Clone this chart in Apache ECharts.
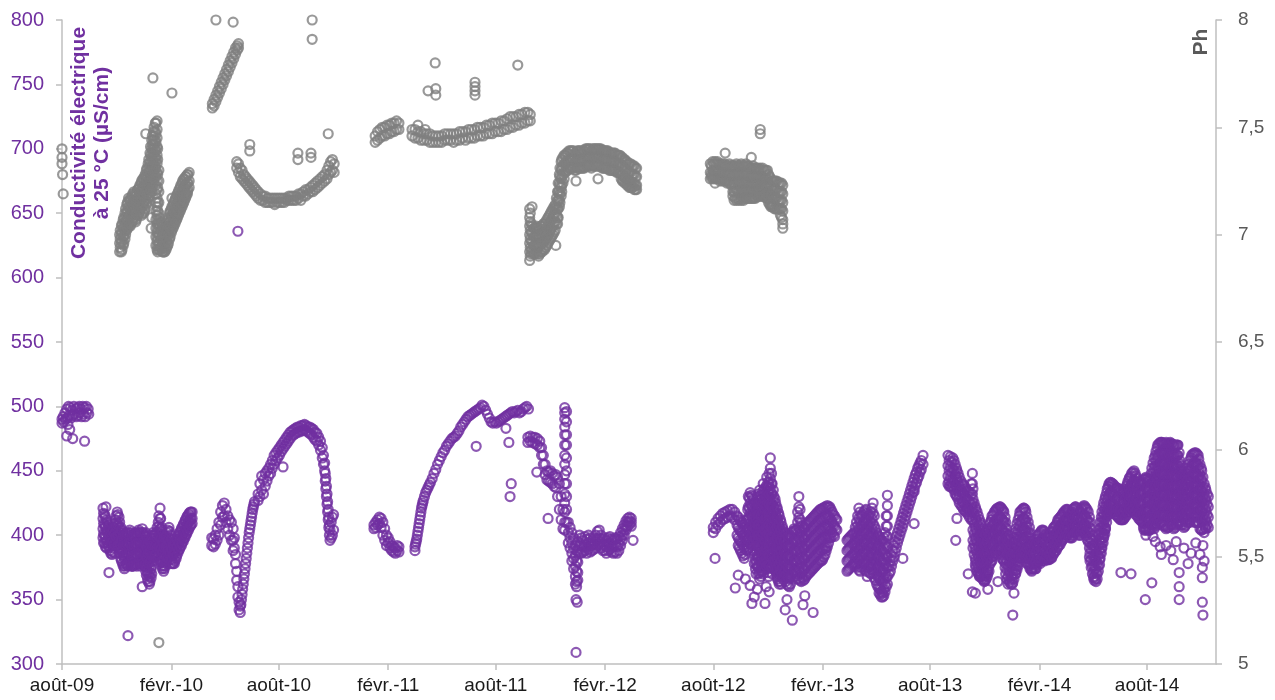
<!DOCTYPE html>
<html><head><meta charset="utf-8">
<script src="https://cdn.jsdelivr.net/npm/echarts@6/dist/echarts.min.js"></script>
<style>html,body{margin:0;padding:0;background:#fff}#c{width:1275px;height:700px}</style>
</head><body><div id="c"></div>
<script>
// x positions are days since 2009-08-01; each row = [day, reading, reading, ...]
const startDate = '2009-08-01';
const endDay = 1942;
const tickDates = ['2009-08-01','2010-02-01','2010-08-01','2011-02-01','2011-08-01','2012-02-01','2012-08-01','2013-02-01','2013-08-01','2014-02-01','2014-08-01'];
const tickLabels = ['août-09','févr.-10','août-10','févr.-11','août-11','févr.-12','août-12','févr.-13','août-13','févr.-14','août-14'];

// Conductivité (µS/cm)
const condAug09 = [[0,490,487],[2,492],[3,488],[5,495],[6,490],[8,498],[9,491],[11,500],[12,493],[14,499],[15,491],[17,497],[18,493],[20,500],[21,494],[23,498],[24,492],[26,499],[27,493],[29,500],[30,495],[32,498],[33,492],[35,500],[36,494],[38,499],[39,492],[41,500],[42,495],[44,498],[45,494]];
const condWinter0910 = [[69,421,413,405,398],[72,416,408,400,394],[75,412,404,396,390],[78,408,400,392],[81,404,396,388],[84,400,392,385],[87,406,398,390],[90,412,404,396],[93,418,410,402,395],[96,414,406,398,390],[99,406,398,390,382],[102,402,394,386,378],[105,398,390,382,374],[108,402,394,386,378],[111,400,392,384,376],[114,404,396,388,380],[117,400,392,384,376],[120,398,390,382,376],[123,402,394,386,378],[126,400,392,384,376],[129,404,396,388,380],[132,400,392,384,376],[135,405,397,389,381],[138,400,392,384,376],[141,402,394,386,378,372],[144,396,388,380,372,366],[147,392,384,376,368,362],[150,398,390,382,374,367],[153,402,394,386,380],[156,398,390,383],[159,402,394,386],[162,410,402,394,388],[165,421,413,405,397,389,381],[168,406,398,390,382,376],[171,400,392,384,376,372],[174,396,388,380,376],[177,402,394,386,380],[180,406,398,390,384],[183,400,392,384,378],[186,394,386,378],[189,392,385,378],[192,396,389,382],[195,399,392,386],[198,402,395,389],[201,405,398,392],[204,408,401,395],[207,411,404,398],[210,414,407,401],[213,416,410,404],[216,418,412,407],[219,418,413,409]];
const condWinter0910More = [[70,417,409,401,394],[73,414,406,398,391],[76,410,402,394],[79,406,398,390],[82,402,394,386],[85,403,395,387],[88,409,401,393],[91,415,407,399],[94,416,408,400,392],[97,410,402,394,386],[100,404,396,388,380],[103,400,392,384,376],[106,400,392,384,376],[109,401,393,385,377],[112,402,394,386,378],[115,402,394,386,378],[118,399,391,383,376],[121,400,392,384,377],[124,401,393,385,377],[127,402,394,386,378],[130,402,394,386,378],[133,402,394,386,378],[136,402,394,386,378],[139,401,393,385,377],[142,399,391,383,375,369],[145,394,386,378,370,364],[148,395,387,379,371,364],[151,400,392,384,376,370],[154,400,392,384],[157,400,392,385],[160,406,398,390],[163,415,407,399,391,384],[166,413,405,397,389,379],[169,403,395,387,379,374],[172,398,390,382,374],[175,399,391,383,378],[178,404,396,388,382],[181,403,395,387,381],[184,397,389,381],[187,393,385,378],[190,394,387,380],[193,397,391,384],[196,400,394,388],[199,403,397,391],[202,406,400,394],[205,409,403,397],[208,412,406,400],[211,415,409,403],[214,417,411,406],[217,418,413,408]];
const condSummer10 = [[252,398,392],[255,397,391],[258,400,393],[261,405,396],[264,410,400],[267,418,408],[270,423,414],[273,425,415],[276,420,410],[279,415,405],[282,412,400],[285,410,396],[288,405,396,388],[290,398,390],[292,385,378],[294,372,365],[296,360,352],[298,348,342],[300,345,340],[301,346],[302,350],[303,354],[304,358],[305,362],[306,366],[307,370],[308,374],[309,378],[310,382],[311,386],[312,390],[313,394],[314,398],[315,402],[316,405],[317,408],[318,411],[319,414],[320,417],[321,420],[322,422],[323,424],[324,426],
[330,432,427],[333,440,430],[336,446,435],[339,443,432],[342,448,438],[345,450,442],[348,452,446],[351,455,448],[354,458,452],[357,462,455],[360,464,458],[363,466,460],[366,468,462],[369,470,465],[372,472,467],[375,474,469],[378,476,471],[381,478,473],[384,480,475],[387,481,477],[390,482,478],[393,483,479],[396,484,480],[399,484,480],[402,485,481],[405,485,481],[408,486,482],[411,485,481],[414,484,480],[417,484,479],[420,483,478],[423,482,476],[426,480,474],[429,479,473],[432,476,470],[435,473,466],[438,468,460],[440,462,455],[442,456,450],[443,448,442],[444,444,436],[445,438,430],[446,432,424],[447,426,418],[448,420,412],[449,414,406],[450,408,400],[451,404,396],[453,410,398],[455,414,400],[457,416,404]];
const condWinter1011 = [[525,408,405],[528,410,406],[531,412,408],[534,414,409],[537,413,406],[540,410,400],[543,405,396],[546,400,392],[549,398,394],[552,395,390],[555,392,388],[558,391,387],[561,390,386],[564,392,388],[567,391,387]];
const condYear11 = [[594,391,388],[595,393],[596,395],[597,397],[598,400],[599,403],[600,406],[601,409],[602,412],[603,415],[604,418],[605,421],[606,423],[607,425],[608,427],[610,430],[612,433],[614,435],[616,437],[618,439],[620,441],[623,444],[626,448],[629,451],[632,455],[635,458],[638,461],[641,464],[644,466],[647,469],[650,471],[653,473],[656,475],[659,476],[662,477],[665,479],[668,481],[671,484],[674,486],[677,488],[680,490],[683,492],[686,493],[689,494],[692,495],[695,496],[698,497],[701,498],[704,499],[707,501],[710,500],[713,497],[716,494],[719,491],[722,488],[725,487],[728,488],[731,487],[734,488],[737,489],[740,490],[743,491],[746,492],[749,493],[752,494],[755,495],[758,496],[761,495],[764,496],[767,497],[770,495],[773,496],[776,498],[779,499],[782,500],[785,498]];
const condWinter1112 = [[784,476,472],[788,477,473],[792,476,472],[796,476,471],[800,475,470],[804,473,468],[807,468,462],[810,462,455],[813,455,447],[816,450,443],[819,449,442],[822,450,441],[825,448,440],[828,446,438],[831,447,437],[834,445,430],[837,440,420],[840,430,412],[843,420,405],[846,499,495,490,484,478,470,462,455,447,440,432,425,418,410,404],[849,496,488,478,470,460,450,440,430,420,410],[852,410,402,394],[855,406,398,390],[858,402,394,386,380],[861,398,390,382,374],[864,392,384,376,368,362],[866,388,380,372,364,360],[868,395,387,379,371,365],[871,400,392,386],[874,398,392,386],[877,396,391,387],[880,399,393,388],[883,397,391,386],[886,400,394,389],[889,398,392,387],[892,396,392,388],[895,398,393,389],[898,400,395,390],[901,403,397,392],[904,404,398,393],[907,400,395,390],[910,397,392,388],[913,398,393,388],[916,396,391,386],[919,398,393,388],[922,399,394,389],[925,397,392,387],[928,396,391,386],[931,398,392,387],[934,397,391,386],[937,399,393,388],[940,402,397,392],[943,405,400,396],[946,408,404,400],[949,411,407,404],[952,413,410,407],[955,414,411,408],[958,413,410,407]];
const condYear1213 = [[1096,406,402],[1100,410,405],[1104,413,408],[1108,415,410],[1112,417,412],[1116,418,413],[1120,419,414],[1124,420,415],[1128,420,414],[1132,418,412],[1136,415,408,400],[1140,412,404,396,390],[1144,410,402,394,386],[1148,406,398,390,382],[1152,412,404,396,388],[1155,430,422,414,406,398,390],[1158,433,425,417,409,401,393],[1162,430,422,414,406,398],[1165,425,417,409,401,393,385,378],[1168,418,410,402,394,386,378,370],[1171,430,422,414,406,398,390,382,375],[1174,435,427,419,411,403,395,387,379,371,366],[1177,428,420,412,404,396,388,380,372],[1180,440,432,424,416,408,400,392,384,376,370],[1183,432,424,416,408,400,392,384,376],[1186,445,437,429,421,413,405,397,389,381,375],[1189,438,430,422,414,406,398,390,382,374,368],[1192,460,452,444,436,428,420,412,404,396,388,380],[1195,440,432,424,416,408,400,392,384,376,370],[1198,430,422,414,406,398,390,382,378],[1201,425,417,409,401,393,385,377,372],[1204,420,412,404,396,388,380,372,366],[1207,415,407,399,391,383,375,368,362],[1210,410,402,394,386,378,370,362],[1213,405,397,389,381,373,366],[1216,402,394,386,378,370],[1220,400,392,384,376,368,362],[1224,398,390,382,374,366,360],[1228,402,394,386,378,370],[1232,405,397,389,381,373],[1236,404,396,388,380,372,366],[1240,430,422,414,406,398,390,382,374,366],[1244,410,402,394,386,378,370,364],[1248,405,397,389,381,373,365],[1252,408,400,392,384,376,368],[1256,410,402,394,386,378,370],[1260,412,404,396,388,380,372],[1264,414,406,398,390,382,374],[1268,416,408,400,392,384,376],[1272,418,410,402,394,386,378],[1276,420,412,404,396,388,380],[1280,421,413,405,397,389,381],[1284,422,414,406,398,390,385],[1288,423,415,407,399,391],[1292,422,414,406,398],[1296,418,410,402],[1300,415,407,399],[1304,412,404],
[1321,396,388,380,372],[1325,398,390,382,374],[1329,400,392,384,376],[1333,402,394,386,378],[1337,410,402,394,386,378],[1341,421,413,405,397,389,381,373],[1345,415,407,399,391,383,375],[1349,418,410,402,394,386,378],[1353,420,412,404,396,388,380,372],[1357,415,407,399,391,383,375],[1361,418,410,402,394,386,378,370],[1365,425,417,409,401,393,385,377,370],[1369,405,397,389,381,373,365],[1373,400,392,384,376,368,360],[1377,398,390,382,374,366,358,354],[1381,395,387,379,371,363,355,352],[1385,402,394,386,378,370,362,356],[1389,431,423,415,407,399,391,383,375,368,362],[1392,376,370],[1394,380,372],[1396,384,376],[1398,388,380],[1400,392,383],[1402,395,387],[1404,399,390],[1406,402,394],[1408,405,397],[1410,408,400],[1412,411,403],[1414,414,406],[1416,417,409],[1418,420,412],[1420,423,415],[1422,426,418],[1424,429,421],[1426,432,424],[1428,435,427],[1430,438,430],[1432,441,433],[1434,444,436],[1436,447,439],[1438,449,441],[1440,452,444],[1442,454,446],[1444,456,449],[1446,458,451],[1449,462,455]];
const condYear1213More = [[1138,414,406,398,392],[1142,411,403,395,388],[1146,408,400,392,384],[1150,409,401,393,385],[1154,420,412,404,396,389],[1157,429,421,413,405,397],[1160,431,423,415,407,399,392],[1163,428,420,412,404,396,388],[1167,421,413,405,397,389,381,374],[1170,424,416,408,400,392,384,376],[1172,432,424,416,408,400,392,384,376,370],[1176,431,423,415,407,399,391,383,375,368],[1179,434,426,418,410,402,394,386,378,372],[1182,436,428,420,412,404,396,388,380,373],[1185,438,430,422,414,406,398,390,382,376],[1188,441,433,425,417,409,401,393,385,377,371],[1190,448,440,432,424,416,408,400,392,384,376],[1194,448,440,432,424,416,408,400,392,384,375],[1197,435,427,419,411,403,395,387,380],[1200,428,420,412,404,396,388,380,374],[1203,422,414,406,398,390,382,374,368],[1206,417,409,401,393,385,377,370,364],[1209,412,404,396,388,380,372,364],[1212,407,399,391,383,375,368],[1215,403,395,387,379,371],[1218,401,393,385,377,369,364],[1222,399,391,383,375,367,361],[1226,400,392,384,376,368,362],[1230,403,395,387,379,371],[1234,404,396,388,380,372,368],[1238,418,410,402,394,386,378,370],[1242,420,412,404,396,388,380,372,365],[1246,407,399,391,383,375,367],[1250,406,398,390,382,374,366],[1254,409,401,393,385,377,369],[1258,411,403,395,387,379,371],[1262,413,405,397,389,381,373],[1266,415,407,399,391,383,375],[1270,417,409,401,393,385,377],[1274,419,411,403,395,387,379],[1278,420,412,404,396,388,380],[1282,421,413,405,397,389,383],[1286,422,414,406,398,390,388],[1290,422,414,406,398,394],[1294,420,412,404,398],[1298,416,408,400],[1302,413,405],
[1323,397,389,381,373],[1327,399,391,383,375],[1331,401,393,385,377],[1335,406,398,390,382,376],[1339,415,407,399,391,383,375],[1343,418,410,402,394,386,378,372],[1347,416,408,400,392,384,376],[1351,419,411,403,395,387,379,373],[1355,417,409,401,393,385,377],[1359,416,408,400,392,384,376,371],[1363,421,413,405,397,389,381,373],[1367,415,407,399,391,383,375,367],[1371,402,394,386,378,370,362],[1375,399,391,383,375,367,359,355],[1379,396,388,380,372,364,356,352],[1383,398,390,382,374,366,358,353],[1387,415,407,399,391,383,375,367,360]];
const condYear1314 = [[1491,462,454,446,440],[1495,461,453,445,438],[1499,460,452,444,438],[1503,455,447,439,432],[1506,450,443,436,430],[1510,445,438,431,425],[1515,440,433,426,422],[1519,438,431,424,419],[1523,435,428,421,418],[1527,433,426,419,414],[1532,448,440,432,425,418,412],[1535,425,417,409,401,393,385],[1538,420,412,404,396,388,380,375],[1542,415,407,399,391,383,375,370],[1545,410,402,394,386,378,370,368],[1549,405,397,389,381,373,366],[1552,400,392,384,376,368,364],[1555,402,394,386,378,370,366],[1558,405,397,389,381,373,370],[1562,410,402,394,386,378],[1565,415,407,399,391,383,380],[1569,418,410,402,394,386],[1572,420,412,404,396,388,385],[1576,421,413,405,397,390],[1579,422,414,406,398,390],[1582,420,412,404,396,388,382],[1585,418,410,402,394,386,380],[1588,410,402,394,386,378,370],[1592,400,392,384,376,368,362],[1595,395,387,379,371,363],[1599,390,382,374,366,362],[1602,398,390,382,374,366],[1605,405,397,389,381,373,370],[1609,412,404,396,388,380,376],[1612,418,410,402,394,386,382],[1616,420,412,404,396,388,384],[1619,421,413,405,397,389,385],[1622,418,410,402,394,386,382],[1626,410,402,394,386,378],[1629,402,394,386,378,374],[1632,395,388,381,374,372],[1636,392,385,378,374],[1639,394,387,380,374],[1642,400,393,386,379],[1646,402,395,388,381,378],[1649,404,397,390,383,380],[1653,403,396,389,382,380],[1656,400,393,386,382],[1659,398,391,385,381],[1663,400,393,386,382],[1666,403,396,389,383],[1669,406,399,392,386],[1673,408,401,394,388],[1676,412,405,398,391],[1680,414,407,400,393],[1683,416,409,402,396],[1686,418,411,404,398],[1690,420,413,406,400],[1693,419,412,405,400],[1696,416,409,402,398],[1700,418,411,404,398],[1703,421,414,407,402],[1706,422,415,408,403],[1710,420,413,406,401],[1713,418,411,404,400],[1716,421,414,407,403],[1720,423,416,409,405],[1723,421,414,407,400],[1727,418,410,402,395],[1730,410,402,394,386,380],[1734,400,392,384,376,370],[1737,392,384,376,368,365],[1740,388,380,372,364],[1744,400,392,384,376,372],[1747,410,402,394,386,382],[1750,418,410,402,394,390],[1753,425,417,409,401,398],[1756,430,422,414,406,405],[1759,436,428,420,415],[1762,440,432,424,418],[1765,441,433,425,420],[1768,440,432,424,418],[1771,438,430,422,418],[1775,437,429,421,415],[1778,436,428,420,414],[1781,434,426,418,412],[1784,432,424,416,412],[1787,435,427,419,413],[1791,438,430,422,415],[1794,442,434,426,418],[1797,445,437,429,421,418],[1800,448,440,432,424,420],[1804,450,442,434,426,420],[1807,446,438,430,422,416],[1811,442,434,426,418,415],[1814,441,433,425,417,412],[1818,440,432,424,416,410],[1821,443,435,427,419,411,404],[1824,445,437,429,421,413,405,400],[1828,444,436,428,420,412,404],[1831,443,435,427,419,411,404],[1834,452,444,436,428,420,412,405],[1838,460,452,444,436,428,420,412,405],[1841,465,457,449,441,433,425,417,409],[1844,470,462,454,446,438,430,422,414,408],[1848,472,464,456,448,440,432,424,416,410],[1851,472,464,456,448,440,432,424,416,410],[1854,471,463,455,447,439,431,423,415,407],[1858,472,464,456,448,440,432,424,416,405],[1861,470,462,454,446,438,430,422,414,406],[1865,472,464,456,448,440,432,424,416,408],[1868,471,463,455,447,439,431,423,415,408],[1871,470,462,454,446,438,430,422,414,405],[1875,470,462,454,446,438,430,422,414,408],[1878,470,462,454,446,438,430,422,414,410],[1881,458,450,442,434,426,418,410],[1884,450,442,434,426,418,410],[1888,445,437,429,421,413,406],[1891,448,440,432,424,416,408],[1894,452,444,436,428,420,412],[1898,458,450,442,434,426,418,410],[1901,462,454,446,438,430,422,414],[1905,463,455,447,439,431,423,415],[1908,464,456,448,440,432,424,416,410],[1912,462,454,446,438,430,422,414,410],[1915,455,447,439,431,423,415,405],[1918,450,442,434,426,418,410,404],[1922,440,432,424,416,408,402],[1925,435,427,419,411,405],[1929,430,422,414,406]];
const condYear1314More = [[1493,458,450,442,438],[1497,457,449,441,437],[1501,458,450,442,435],[1505,452,445,438,431],[1508,448,441,434,428],[1513,442,435,428,423],[1517,439,432,425,420],[1521,436,429,422,418],[1525,434,427,420,416],[1530,440,432,424,418,412],[1533,436,428,420,412,404,396,390],[1537,422,414,406,398,390,382,377],[1540,418,410,402,394,386,378,372],[1544,412,404,396,388,380,372,368],[1547,408,400,392,384,376,368],[1551,402,394,386,378,370,365],[1554,401,393,385,377,369,365],[1557,404,396,388,380,372,368],[1560,408,400,392,384,376,372],[1564,412,404,396,388,380],[1567,416,408,400,392,384],[1571,419,411,403,395,387],[1574,421,413,405,397,389],[1578,422,414,406,398,390],[1581,421,413,405,397,389,385],[1584,419,411,403,395,387,381],[1587,414,406,398,390,382,375],[1590,405,397,389,381,373,366],[1594,397,389,381,373,365],[1597,392,384,376,368,362],[1600,394,386,378,370,363],[1604,402,394,386,378,370],[1607,409,401,393,385,377,373],[1611,415,407,399,391,383,379],[1614,419,411,403,395,387,383],[1618,421,413,405,397,389,385],[1621,420,412,404,396,388,384],[1624,414,406,398,390,382,378],[1628,406,398,390,382,376],[1631,398,391,384,377,373],[1634,393,386,379,374],[1638,393,386,379,374],[1641,397,390,383,377],[1644,401,394,387,380],[1648,403,396,389,382],[1651,404,397,390,383],[1655,401,394,387,382],[1658,399,392,386,381],[1661,399,392,385,381],[1665,402,395,388,382],[1668,405,398,391,385],[1671,407,400,393,387],[1675,410,403,396,390],[1678,413,406,399,392],[1682,415,408,401,395],[1685,417,410,403,397],[1688,419,412,405,399],[1692,420,413,406,400],[1695,418,411,404,399],[1698,417,410,403,398],[1701,420,413,406,400],[1705,422,415,408,402],[1708,421,414,407,402],[1712,419,412,405,400],[1715,420,413,406,402],[1718,422,415,408,404],[1722,422,415,408,402],[1725,420,412,404,397],[1729,414,406,398,390,383],[1732,405,397,389,381,375],[1736,396,388,380,372,367],[1739,390,382,374,366],[1742,394,386,378,370,366],[1746,405,397,389,381,377],[1749,414,406,398,390,386],[1752,422,414,406,398,394],[1755,428,420,412,404,401],[1758,433,425,417,410],[1761,438,430,422,416],[1764,441,433,425,419],[1767,440,432,424,419],[1770,439,431,423,418],[1773,437,429,421,416],[1777,436,428,420,414],[1780,435,427,419,413],[1783,433,425,417,412],[1786,434,426,418,412],[1789,436,428,420,414],[1793,440,432,424,417],[1796,444,436,428,420],[1799,446,438,430,422,419],[1802,449,441,433,425,420],[1806,448,440,432,424,418],[1809,444,436,428,420,415],[1812,441,433,425,417,413],[1816,440,432,424,416,411],[1820,441,433,425,417,409,406],[1823,444,436,428,420,412,404],[1826,444,436,428,420,412,404],[1830,443,435,427,419,411,404],[1833,448,440,432,424,416,408],[1836,456,448,440,432,424,416,408],[1840,462,454,446,438,430,422,414,407],[1843,468,460,452,444,436,428,420,412],[1846,471,463,455,447,439,431,423,415,409],[1850,472,464,456,448,440,432,424,416,410],[1853,471,463,455,447,439,431,423,415,408],[1856,471,463,455,447,439,431,423,415,407],[1860,471,463,455,447,439,431,423,415,406],[1863,471,463,455,447,439,431,423,415,407],[1867,471,463,455,447,439,431,423,415,408],[1870,470,462,454,446,438,430,422,414,407],[1873,470,462,454,446,438,430,422,414,406],[1877,470,462,454,446,438,430,422,414,409],[1880,464,456,448,440,432,424,416,410],[1883,454,446,438,430,422,414,408],[1886,447,439,431,423,415,408],[1890,446,438,430,422,414,407],[1893,450,442,434,426,418,410],[1896,455,447,439,431,423,415,410],[1900,460,452,444,436,428,420,412],[1903,463,455,447,439,431,423,415],[1906,464,456,448,440,432,424,416,410],[1910,463,455,447,439,431,423,415,410],[1913,459,451,443,435,427,419,410],[1917,452,444,436,428,420,412,404],[1920,445,437,429,421,413,405],[1924,437,429,421,413,406],[1927,432,424,416,408]];
const condOutliers = [[8,477],[13,482],[18,475],[10,486],[38,473],[74,422],[89,386],[79,371],[135,360],[111,322],[296,636],[372,453],[697,469],[747,483],[752,472],[756,440],[754,430],[799,449],[818,413],[865,350],[867,348],[865,309],[961,396],[1099,382],[1138,369],[1183,347],[1220,350],[1217,342],[1229,334],[1250,353],[1247,346],[1264,340],[1158,361],[1161,347],[1133,359],[1150,366],[1165,352],[1170,358],[1185,360],[1190,356],[1434,434],[1434,409],[1415,382],[1355,368],[1506,413],[1504,396],[1525,370],[1532,356],[1537,355],[1558,358],[1575,364],[1600,338],[1602,355],[1782,371],[1799,370],[1823,350],[1834,363],[1880,350],[1880,360],[1880,371],[1919,348],[1920,338],[1919,367],[1920,392],[1870,381],[1895,378],[1848,391],[1836,399],[1919,375],[1840,395],[1850,385],[1858,392],[1866,388],[1875,395],[1888,390],[1900,386],[1908,394],[1915,385],[1922,380]];

// pH
const phAug09 = [[0,7.40,7.36,7.33],[1,7.28],[2,7.19]];
const phWinter0910 = [[97,7.00,6.96,6.92],[100,7.04,7.00,6.96,6.92],[103,7.07,7.03,6.99,6.95],[106,7.10,7.06,7.02,6.98],[109,7.14,7.10,7.06,7.02],[112,7.17,7.13,7.09,7.05],[115,7.16,7.12,7.08,7.04],[118,7.18,7.14,7.10,7.06],[121,7.20,7.16,7.12,7.08],[124,7.18,7.14,7.10,7.06],[127,7.21,7.17,7.13,7.09],[130,7.22,7.18,7.14,7.10],[133,7.24,7.20,7.16,7.12],[136,7.26,7.22,7.18,7.14,7.10],[139,7.27,7.23,7.19,7.15,7.11],[142,7.30,7.26,7.22,7.18,7.14],[145,7.33,7.29,7.25,7.21,7.17],[148,7.38,7.34,7.30,7.26,7.22,7.18],[151,7.44,7.40,7.36,7.32,7.28,7.24,7.20],[154,7.48,7.44,7.40,7.36,7.32,7.28,7.24],[157,7.52,7.48,7.44,7.40,7.36,7.32,7.28],[160,7.53,7.49,7.45,7.41,7.37,7.33,7.29,7.25,7.21,7.17,7.13,7.09,7.05,7.01,6.97,6.93],[163,7.30,7.25,7.20,7.15,7.10,7.05,7.00,6.96,6.93],[166,7.06,7.02,6.98,6.94],[169,7.04,7.00,6.96,6.92],[172,7.02,6.98,6.94,6.92],[175,7.04,7.00,6.96,6.93],[178,7.07,7.03,6.99,6.95],[181,7.10,7.06,7.02,6.98],[184,7.12,7.08,7.04,7.01],[187,7.14,7.10,7.06,7.03],[190,7.16,7.12,7.08,7.05],[193,7.18,7.14,7.10,7.07],[196,7.20,7.16,7.12,7.09],[199,7.22,7.18,7.14,7.11],[202,7.24,7.20,7.16,7.13],[205,7.26,7.22,7.18,7.15],[208,7.27,7.23,7.19,7.17],[211,7.28,7.24,7.20,7.19],[214,7.29,7.25,7.22]];
const phWinter0910More = [[98,7.02,6.98,6.94],[101,7.05,7.01,6.97,6.93],[104,7.08,7.04,7.00,6.96],[107,7.12,7.08,7.04,7.00],[110,7.15,7.11,7.07,7.03],[113,7.16,7.12,7.08,7.04],[116,7.17,7.13,7.09,7.05],[119,7.19,7.15,7.11,7.07],[122,7.19,7.15,7.11,7.07],[125,7.19,7.15,7.11,7.07],[128,7.21,7.17,7.13,7.09],[131,7.23,7.19,7.15,7.11],[134,7.25,7.21,7.17,7.13,7.09],[137,7.26,7.22,7.18,7.14,7.10],[140,7.28,7.24,7.20,7.16,7.12],[143,7.31,7.27,7.23,7.19,7.15],[146,7.35,7.31,7.27,7.23,7.19],[149,7.41,7.37,7.33,7.29,7.25,7.21],[152,7.46,7.42,7.38,7.34,7.30,7.26,7.22],[155,7.50,7.46,7.42,7.38,7.34,7.30,7.26],[158,7.52,7.47,7.43,7.39,7.35,7.31,7.27,7.23,7.19,7.15,7.11,7.07,7.03,6.99,6.95],[161,7.40,7.35,7.28,7.22,7.15,7.11,7.07,7.03,6.99,6.95,6.92],[164,7.08,7.04,7.00,6.96,6.93],[167,7.05,7.01,6.97,6.93],[170,7.03,6.99,6.95,6.92],[173,7.03,6.99,6.95,6.92],[176,7.05,7.01,6.97,6.94],[179,7.08,7.04,7.00,6.96],[182,7.11,7.07,7.03,6.99],[185,7.13,7.09,7.05,7.02],[188,7.15,7.11,7.07,7.04],[191,7.17,7.13,7.09,7.06],[194,7.19,7.15,7.11,7.08],[197,7.21,7.17,7.13,7.10],[200,7.23,7.19,7.15,7.12],[203,7.25,7.21,7.17,7.14],[206,7.26,7.22,7.18,7.16],[209,7.27,7.23,7.19,7.18],[212,7.28,7.24,7.21]];
const phSpring10 = [[253,7.59,7.61],[256,7.60,7.63],[259,7.62,7.65],[262,7.64,7.67],[265,7.66,7.69],[268,7.68,7.71],[271,7.70,7.73],[274,7.72,7.75],[277,7.74,7.77],[280,7.76,7.79],[283,7.78,7.81],[286,7.80,7.83],[289,7.82,7.85],[292,7.84,7.87],[295,7.86,7.88],[297,7.87,7.89]];
const phAutumn10 = [[294,7.34,7.31],[297,7.33,7.29],[300,7.31,7.27],[303,7.30,7.26],[306,7.28,7.25],[309,7.27,7.24],[312,7.26,7.23],[315,7.25,7.22],[318,7.24,7.21],[321,7.23,7.20],[324,7.22,7.19],[327,7.21,7.18],[330,7.20,7.17],[334,7.19,7.16],[338,7.18,7.16],[342,7.18,7.15],[346,7.17,7.15],[350,7.17,7.15],[354,7.17,7.15],[358,7.17,7.14],[362,7.17,7.15],[366,7.17,7.15],[370,7.17,7.15],[374,7.17,7.15],[378,7.17,7.16],[382,7.18,7.16],[386,7.18,7.16],[390,7.18,7.16],[394,7.18,7.16],[398,7.19,7.17],[402,7.19,7.16],[406,7.20,7.18],[410,7.21,7.18],[414,7.21,7.19],[418,7.22,7.20],[422,7.23,7.20],[426,7.24,7.21],[430,7.25,7.22],[434,7.26,7.23],[438,7.27,7.24],[442,7.28,7.25],[446,7.30,7.26],[449,7.32,7.28],[452,7.34,7.29],[455,7.35,7.30],[458,7.33,7.29]];
const phWinter1011 = [[527,7.46,7.43],[531,7.48,7.44],[535,7.49,7.45],[539,7.50,7.46],[543,7.50,7.46],[547,7.51,7.47],[551,7.51,7.47],[555,7.52,7.48],[559,7.52,7.48],[563,7.53,7.49],[567,7.52,7.49]];
const phYear11 = [[589,7.49,7.46],[594,7.49,7.45],[599,7.48,7.45],[604,7.48,7.44],[609,7.47,7.44],[614,7.47,7.44],[619,7.47,7.43],[624,7.46,7.43],[629,7.46,7.43],[634,7.46,7.43],[639,7.46,7.43],[644,7.47,7.44],[649,7.47,7.44],[654,7.47,7.44],[659,7.47,7.43],[664,7.47,7.44],[669,7.48,7.44],[674,7.48,7.45],[679,7.48,7.44],[684,7.49,7.45],[689,7.49,7.45],[694,7.49,7.45],[699,7.50,7.46],[704,7.50,7.46],[709,7.50,7.46],[714,7.51,7.47],[719,7.51,7.47],[724,7.52,7.47],[729,7.52,7.48],[734,7.52,7.48],[739,7.53,7.48],[744,7.53,7.49],[749,7.54,7.49],[754,7.55,7.50],[759,7.55,7.50],[764,7.55,7.51],[769,7.56,7.51],[774,7.56,7.52],[779,7.57,7.52],[784,7.57,7.53],[788,7.56,7.53]];
const phWinter1112 = [[787,7.12,7.08,7.04,7.00,6.96,6.92,6.88],[790,7.05,7.01,6.97,6.93,6.91],[794,7.03,6.99,6.95,6.91],[798,7.04,7.00,6.96,6.92],[802,7.02,6.98,6.94,6.90],[806,7.04,7.00,6.96,6.92],[810,7.05,7.01,6.97,6.93],[814,7.06,7.02,6.98,6.94],[818,7.08,7.04,7.00,6.96],[822,7.10,7.06,7.02,6.98],[826,7.12,7.08,7.04,7.00],[830,7.14,7.10,7.06,7.02],[834,7.20,7.16,7.12,7.08,7.05],[837,7.28,7.24,7.20,7.16,7.13],[840,7.34,7.30,7.26,7.22,7.18],[843,7.36,7.32,7.28,7.24],[847,7.37,7.33,7.29],[851,7.38,7.34,7.30],[855,7.39,7.35,7.31],[859,7.39,7.35,7.31],[863,7.38,7.34,7.30],[867,7.39,7.35,7.31],[871,7.39,7.35,7.31],[875,7.38,7.34,7.31],[879,7.39,7.35,7.31],[883,7.40,7.36,7.32],[887,7.40,7.36,7.32],[891,7.39,7.35,7.31],[895,7.40,7.36,7.32],[899,7.40,7.36,7.32],[903,7.40,7.36,7.32],[907,7.40,7.36,7.32],[911,7.39,7.35,7.31],[915,7.39,7.35,7.31],[919,7.39,7.35,7.31],[923,7.38,7.34,7.30],[927,7.38,7.34,7.30],[931,7.38,7.34,7.30],[935,7.37,7.33,7.29],[939,7.37,7.33,7.29],[943,7.36,7.32,7.28,7.25],[947,7.35,7.31,7.27,7.24],[951,7.34,7.30,7.26,7.23],[955,7.33,7.29,7.25,7.22],[959,7.32,7.28,7.24,7.22],[963,7.32,7.28,7.24,7.21],[967,7.31,7.27,7.23,7.21]];
const phWinter1112More = [[788,7.10,7.06,7.02,6.98,6.94,6.90],[792,7.04,7.00,6.96,6.92],[796,7.03,6.99,6.95,6.91],[800,7.03,6.99,6.95,6.91],[804,7.03,6.99,6.95,6.91],[808,7.04,7.00,6.96,6.92],[812,7.05,7.01,6.97,6.93],[816,7.07,7.03,6.99,6.95],[820,7.09,7.05,7.01,6.97],[824,7.11,7.07,7.03,6.99],[828,7.13,7.09,7.05,7.01],[832,7.17,7.13,7.09,7.05],[835,7.24,7.20,7.16,7.12,7.08],[838,7.31,7.27,7.23,7.19,7.15],[841,7.35,7.31,7.27,7.23,7.20],[845,7.37,7.33,7.29,7.26],[849,7.38,7.34,7.30],[853,7.39,7.35,7.31],[857,7.39,7.35,7.31],[861,7.39,7.35,7.31],[865,7.38,7.34,7.30],[869,7.39,7.35,7.31],[873,7.39,7.35,7.31],[877,7.39,7.35,7.31],[881,7.40,7.36,7.32],[885,7.40,7.36,7.32],[889,7.40,7.36,7.32],[893,7.40,7.36,7.32],[897,7.40,7.36,7.32],[901,7.40,7.36,7.32],[905,7.40,7.36,7.32],[909,7.39,7.35,7.31],[913,7.39,7.35,7.31],[917,7.39,7.35,7.31],[921,7.38,7.34,7.30],[925,7.38,7.34,7.30],[929,7.38,7.34,7.30],[933,7.37,7.33,7.29],[937,7.37,7.33,7.29],[941,7.36,7.32,7.28,7.26],[945,7.35,7.31,7.27,7.25],[949,7.34,7.30,7.26,7.24],[953,7.33,7.29,7.25,7.23],[957,7.33,7.29,7.25,7.22],[961,7.32,7.28,7.24,7.22],[965,7.31,7.27,7.23,7.21]];
const phAutumn12 = [[1091,7.33,7.29,7.26],[1095,7.34,7.30,7.26],[1099,7.34,7.30,7.26],[1103,7.34,7.30,7.26],[1107,7.33,7.29,7.25],[1111,7.33,7.29,7.25],[1115,7.33,7.29,7.25],[1119,7.32,7.28,7.24],[1123,7.33,7.28,7.24],[1127,7.32,7.27,7.23],[1131,7.32,7.28,7.24,7.20,7.16],[1135,7.33,7.29,7.25,7.21,7.16],[1139,7.32,7.28,7.24,7.20,7.16],[1143,7.33,7.29,7.25,7.21,7.16],[1147,7.32,7.28,7.24,7.20,7.16],[1151,7.33,7.29,7.25,7.21,7.17],[1155,7.32,7.28,7.24,7.21,7.17],[1159,7.31,7.27,7.24,7.21,7.17],[1163,7.32,7.28,7.24,7.21,7.17],[1167,7.31,7.27,7.24,7.21,7.17],[1171,7.31,7.27,7.24,7.21,7.18],[1175,7.31,7.27,7.24,7.21,7.18],[1179,7.31,7.27,7.24,7.20,7.18],[1183,7.30,7.26,7.23,7.20,7.18],[1187,7.30,7.26,7.23,7.20,7.17],[1191,7.27,7.23,7.19,7.16,7.14],[1195,7.25,7.21,7.17,7.13],[1199,7.25,7.21,7.17,7.12],[1203,7.25,7.21,7.17,7.12],[1207,7.24,7.20,7.16,7.12],[1211,7.24,7.20,7.16,7.12,7.08],[1213,7.23,7.19,7.15,7.11,7.07]];
const phAutumn12More = [[1093,7.32,7.28,7.27],[1097,7.33,7.29,7.27],[1101,7.33,7.29,7.27],[1105,7.33,7.29,7.26],[1109,7.32,7.28,7.26],[1113,7.32,7.28,7.26],[1117,7.32,7.28,7.25],[1121,7.32,7.28,7.25],[1125,7.32,7.28,7.24],[1129,7.32,7.28,7.24,7.20,7.18],[1133,7.32,7.28,7.24,7.20,7.17],[1137,7.32,7.28,7.24,7.20,7.17],[1141,7.32,7.28,7.24,7.20,7.17],[1145,7.32,7.28,7.24,7.20,7.17],[1149,7.32,7.28,7.24,7.20,7.17],[1153,7.32,7.28,7.24,7.20,7.17],[1157,7.31,7.27,7.23,7.20,7.17],[1161,7.31,7.27,7.23,7.20,7.17],[1165,7.31,7.27,7.23,7.20,7.17],[1169,7.31,7.27,7.23,7.20,7.18],[1173,7.30,7.26,7.22,7.19,7.18],[1177,7.30,7.26,7.22,7.19,7.18],[1181,7.30,7.26,7.22,7.19,7.18],[1185,7.30,7.26,7.22,7.19,7.17],[1189,7.28,7.24,7.20,7.17,7.15],[1193,7.26,7.22,7.18,7.14,7.13],[1197,7.25,7.21,7.17,7.13],[1201,7.25,7.21,7.17,7.12],[1205,7.24,7.20,7.16,7.12],[1209,7.24,7.20,7.16,7.12,7.09]];
const phOutliers = [[141,7.47],[153,7.73],[185,7.66],[151,7.08],[150,7.03],[185,7.17],[163,5.10],[259,8.00],[288,7.99],[316,7.42],[316,7.39],[397,7.38],[397,7.35],[419,7.38],[419,7.36],[448,7.47],[421,8.00],[421,7.91],[628,7.80],[616,7.67],[629,7.68],[629,7.65],[695,7.71],[695,7.69],[695,7.67],[695,7.65],[767,7.79],[599,7.51],[611,7.49],[791,7.13],[830,7.12],[831,6.95],[902,7.26],[865,7.25],[959,7.22],[1175,7.49],[1175,7.47],[1116,7.38],[1160,7.36],[1099,7.24],[1213,7.05],[1213,7.03]];

function toPoints(groups){
  const out = [];
  groups.forEach(rows => rows.forEach(r => { for (let i = 1; i < r.length; i++) out.push([r[0], r[i]]); }));
  return out;
}
const dayMs = 86400000;
const t0 = Date.parse(startDate);
const tickDays = tickDates.map(d => Math.round((Date.parse(d) - t0) / dayMs));

const condData = toPoints([condAug09, condWinter0910, condWinter0910More, condSummer10, condWinter1011, condYear11, condWinter1112, condYear1213, condYear1213More, condYear1314, condYear1314More, condOutliers]);
const phData = toPoints([phAug09, phWinter0910, phWinter0910More, phSpring10, phAutumn10, phWinter1011, phYear11, phWinter1112, phWinter1112More, phAutumn12, phAutumn12More, phOutliers]);

const PURPLE = '#7030A0', GREY = '#808080', AXIS = '#bfbfbf';
const FONT = '"Liberation Sans", Arial, sans-serif';

const chart = echarts.init(document.getElementById('c'), null, {renderer: 'canvas'});
chart.setOption({
  animation: false,
  backgroundColor: '#ffffff',
  grid: {left: 62, right: 59, top: 20, bottom: 36, containLabel: false},
  xAxis: {
    type: 'value', min: 0, max: endDay,
    axisLine: {show: true, lineStyle: {color: AXIS, width: 1.5}},
    axisTick: {show: true, customValues: tickDays, length: 6, lineStyle: {color: AXIS, width: 1.5}},
    axisLabel: {customValues: tickDays, margin: 12, color: '#1a1a1a', fontSize: 19, fontFamily: FONT,
      formatter: v => { const i = tickDays.indexOf(Math.round(v)); return i >= 0 ? tickLabels[i] : ''; }},
    splitLine: {show: false}
  },
  yAxis: [
    {type: 'value', min: 300, max: 800, interval: 50, position: 'left',
     axisLine: {show: true, lineStyle: {color: AXIS, width: 1.5}},
     axisTick: {show: true, length: 6, lineStyle: {color: AXIS, width: 1.5}},
     axisLabel: {color: PURPLE, fontSize: 20, fontFamily: FONT, margin: 18},
     splitLine: {show: false}},
    {type: 'value', min: 5, max: 8, interval: 0.5, position: 'right',
     axisLine: {show: true, lineStyle: {color: AXIS, width: 1.5}},
     axisTick: {show: true, length: 6, lineStyle: {color: AXIS, width: 1.5}},
     axisLabel: {color: '#595959', fontSize: 19, fontFamily: FONT, margin: 22,
       formatter: v => String(v).replace('.', ',')},
     splitLine: {show: false}}
  ],
  graphic: [
    {type: 'text', x: 91, y: 143, rotation: Math.PI / 2,
     style: {text: 'Conductivité électrique\nà 25 °C (µS/cm)', fill: PURPLE, font: 'bold 21px ' + FONT,
       align: 'center', verticalAlign: 'middle', lineHeight: 23}},
    {type: 'text', x: 1201, y: 42, rotation: Math.PI / 2,
     style: {text: 'Ph', fill: '#595959', font: 'bold 21px ' + FONT, align: 'center', verticalAlign: 'middle'}}
  ],
  series: [
    {name: 'Ph', type: 'scatter', yAxisIndex: 1, data: phData, symbol: 'circle', symbolSize: 9,
     clip: false, large: false, progressive: 0,
     itemStyle: {color: 'rgba(0,0,0,0)', borderColor: GREY, borderWidth: 2.2}},
    {name: 'Conductivité', type: 'scatter', yAxisIndex: 0, data: condData, symbol: 'circle', symbolSize: 9,
     clip: false, large: false, progressive: 0,
     itemStyle: {color: 'rgba(0,0,0,0)', borderColor: PURPLE, borderWidth: 2.2}}
  ]
});
</script></body></html>
